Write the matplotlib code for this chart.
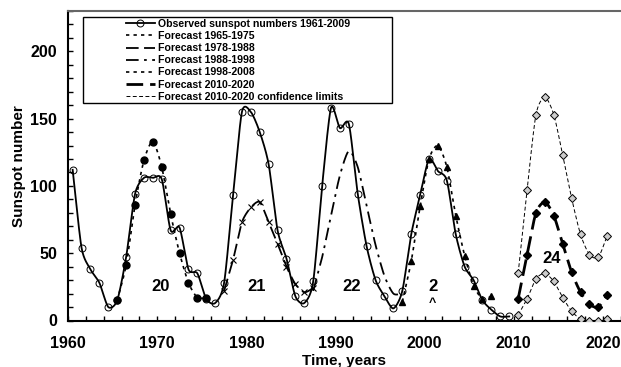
import numpy as np
import matplotlib
matplotlib.use('Agg')
import matplotlib.pyplot as plt
from matplotlib.ticker import MultipleLocator
from matplotlib.patches import Rectangle

plt.rcParams['font.family'] = ['Liberation Sans', 'DejaVu Sans']
plt.rcParams['font.weight'] = 'bold'

# observed annual sunspot numbers (plotted at mid-year)
obs_years = np.arange(1960, 2010)
obs_values = [112, 54, 38, 28, 10, 15, 47, 94, 106, 106, 105, 67, 69, 38, 35, 16, 13, 28,
              93, 155, 155, 140, 116, 67, 46, 18, 13, 29, 100, 158, 143, 146, 94, 55, 30,
              18, 9, 22, 64, 93, 120, 111, 104, 64, 40, 30, 15, 8, 3, 3]

# forecasts
f1965_years = np.arange(1965, 1976)
f1965_values = [15, 41, 86, 119, 133, 114, 79, 50, 28, 17, 17]

f1978_years = np.arange(1977, 1988)
f1978_values = [22, 45, 73, 84, 88, 73, 57, 40, 27, 21, 24]

f1988_years = np.arange(1987, 1998)
f1988_values = [22, 47, 78, 108, 126, 114, 85, 56, 33, 20, 20]

f1998_years = np.arange(1997, 2008)
f1998_values = [14, 44, 85, 120, 130, 114, 78, 48, 26, 16, 18]

f2010_years = np.arange(2010, 2021)
f2010_values = [16, 49, 80, 88, 78, 57, 36, 21, 12, 10, 19]
f2010_upper = [35, 97, 153, 166, 153, 123, 91, 64, 49, 47, 63]
f2010_lower = [4, 16, 31, 35, 29, 17, 7, 1, 0, 0, 1]

cycle_labels = ['20', '21', '22', '2', '24']
cycle_x = [1970.4, 1981.2, 1991.8, 2000.9, 2014.3]
cycle_y = [25, 25, 25, 25, 46]


def smooth(years, values, n=16, s=0.75):
    # cardinal (Hermite) curve through the points, only for drawing the line
    x = np.asarray(years, float) + 0.5
    y = np.asarray(values, float)
    px = np.concatenate([[2 * x[0] - x[1]], x, [2 * x[-1] - x[-2]]])
    py = np.concatenate([[2 * y[0] - y[1]], y, [2 * y[-1] - y[-2]]])
    t = np.linspace(0, 1, n, endpoint=False)
    h00 = 2 * t ** 3 - 3 * t ** 2 + 1
    h10 = t ** 3 - 2 * t ** 2 + t
    h01 = -2 * t ** 3 + 3 * t ** 2
    h11 = t ** 3 - t ** 2
    xs, ys = [], []
    for i in range(1, len(px) - 2):
        for p, out in ((px, xs), (py, ys)):
            p0, p1, p2, p3 = p[i - 1], p[i], p[i + 1], p[i + 2]
            m1 = s * (p2 - p0) / 2
            m2 = s * (p3 - p1) / 2
            out.extend(h00 * p1 + h10 * m1 + h01 * p2 + h11 * m2)
    xs.append(x[-1])
    ys.append(y[-1])
    return np.array(xs), np.array(ys)


fig = plt.figure(figsize=(6.21, 3.67), dpi=100)
ax = fig.add_axes([68.2 / 621, 1 - 320.5 / 367, 552.4 / 621, 309.5 / 367])

# forecast lines
sx, sy = smooth(f1965_years, f1965_values)
l1, = ax.plot(sx, sy, color='k', lw=1.2, dashes=(2, 2.5), label='Forecast 1965-1975')
ax.plot(f1965_years + 0.5, f1965_values, 'o', color='k', ms=5, zorder=4)

sx, sy = smooth(f1978_years, f1978_values)
l2, = ax.plot(sx, sy, color='k', lw=1.3, dashes=(7, 3), label='Forecast 1978-1988')
ax.plot(f1978_years + 0.5, f1978_values, 'x', color='k', ms=4.5, mew=0.8, zorder=4)

sx, sy = smooth(f1988_years, f1988_values)
l3, = ax.plot(sx, sy, color='k', lw=1.3, dashes=(7, 3, 1.5, 3), label='Forecast 1988-1998')

sx, sy = smooth(f1998_years, f1998_values)
l4, = ax.plot(sx, sy, color='k', lw=1.2, dashes=(2, 2.5), label='Forecast 1998-2008')
ax.plot(f1998_years + 0.5, f1998_values, '^', color='k', ms=5, zorder=4)

sx, sy = smooth(f2010_years, f2010_values)
l5, = ax.plot(sx, sy, color='k', lw=2, dashes=(6, 2.5), label='Forecast 2010-2020')
ax.plot(f2010_years + 0.5, f2010_values, 'D', color='k', ms=4, zorder=4)

sx, sy = smooth(f2010_years, f2010_upper)
l6, = ax.plot(sx, sy, color='k', lw=0.7, dashes=(4, 2.5), label='Forecast 2010-2020 confidence limits')
ax.plot(f2010_years + 0.5, f2010_upper, 'D', mfc='#cccccc', mec='k', mew=0.7, ms=4, zorder=4)
sx, sy = smooth(f2010_years, f2010_lower)
ax.plot(sx, sy, color='k', lw=0.7, dashes=(4, 2.5))
ax.plot(f2010_years + 0.5, f2010_lower, 'D', mfc='#cccccc', mec='k', mew=0.7, ms=4, zorder=4)

# observed
sx, sy = smooth(obs_years, obs_values)
ax.plot(sx, sy, color='k', lw=1.3, zorder=5)
ax.plot(obs_years + 0.5, obs_values, 'o', mfc='none', mec='k', mew=0.7, ms=5, zorder=6)
lobs, = ax.plot([], [], color='k', lw=1.3, marker='o', mfc='none', mec='k', mew=0.7, ms=5,
                label='Observed sunspot numbers 1961-2009')

for txt, x, y in zip(cycle_labels, cycle_x, cycle_y):
    ax.text(x, y, txt, fontsize=12, fontweight='bold', ha='center', va='center')
ax.text(2000.9, 13, '^', fontsize=9, fontweight='bold', ha='center', va='center')

ax.set_xlim(1960, 2022)
ax.set_ylim(0, 230)
ax.set_xticks(range(1960, 2021, 10))
ax.set_yticks(range(0, 201, 50))
ax.xaxis.set_minor_locator(MultipleLocator(2))
ax.yaxis.set_minor_locator(MultipleLocator(10))
ax.tick_params(which='both', direction='in', length=3.3, width=1)
ax.tick_params(axis='x', which='major', pad=11, labelsize=11.5)
ax.tick_params(axis='y', which='major', pad=8, labelsize=11.5)
for lab in ax.get_xticklabels() + ax.get_yticklabels():
    lab.set_fontweight('bold')

ax.spines['right'].set_visible(False)
ax.spines['left'].set_linewidth(1.5)
ax.spines['bottom'].set_linewidth(1.5)
ax.spines['top'].set_linewidth(1.5)
ax.spines['top'].set_color('#666666')

ax.set_ylabel('Sunspot number', fontsize=11, fontweight='bold')
ax.yaxis.set_label_coords(-0.077, 0.5)
ax.set_xlabel('Time, years', fontsize=11, fontweight='bold')
ax.xaxis.set_label_coords(0.5, -0.108)

# legend box drawn separately, handles indented like the original
box = Rectangle((83 / 621, 1 - 103 / 367), 309 / 621, 86 / 367,
                transform=fig.transFigure, facecolor='white', edgecolor='k', lw=1,
                zorder=10, clip_on=False)
ax.add_patch(box)
leg = ax.legend(handles=[lobs, l1, l2, l3, l4, l5, l6], loc='upper left',
                bbox_to_anchor=(126 / 621, 1 - 19 / 367), bbox_transform=fig.transFigure,
                frameon=False, borderpad=0, borderaxespad=0, numpoints=1,
                handlelength=2.7, handletextpad=0.3, labelspacing=0.2,
                prop={'size': 7.6, 'weight': 'bold'})
leg.set_zorder(11)

fig.savefig('out.png', dpi=100)
